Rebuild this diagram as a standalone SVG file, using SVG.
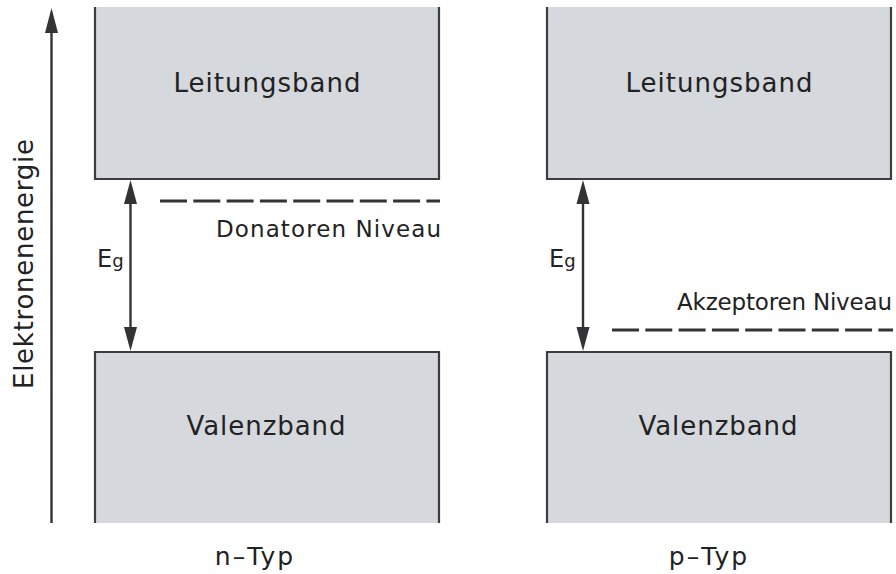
<svg xmlns="http://www.w3.org/2000/svg" width="896" height="574" viewBox="0 0 896 574">
<style>
.band{fill:#d5d8dc;}
.edge{fill:none;stroke:#3d3d40;stroke-width:2.2;}
.lbl{font-family:"DejaVu Sans",sans-serif;fill:#222;}
.big{font-size:26px;}
.mid{font-size:23px;}
.typ{font-size:25px;letter-spacing:2px;}
.ln{stroke:#333336;stroke-width:2.4;fill:none;}
.dash{stroke:#333336;stroke-width:3.2;stroke-dasharray:27 6.3;fill:none;}
.head{fill:#333336;}
</style>
<rect width="896" height="574" fill="#ffffff"/>
<g id="leitungsband-n">
<rect class="band" x="95" y="7" width="344" height="172"/>
<path class="edge" d="M95,7 V179 H439 V7"/>
<text class="lbl big" x="267" y="92" text-anchor="middle" textLength="187" lengthAdjust="spacing">Leitungsband</text>
</g>
<g id="valenzband-n">
<rect class="band" x="95" y="352" width="344" height="171"/>
<path class="edge" d="M95,523 V352 H439 V523"/>
<text class="lbl big" x="266" y="435" text-anchor="middle" textLength="159" lengthAdjust="spacing">Valenzband</text>
</g>
<g id="leitungsband-p">
<rect class="band" x="547" y="7" width="344" height="172"/>
<path class="edge" d="M547,7 V179 H891 V7"/>
<text class="lbl big" x="719" y="92" text-anchor="middle" textLength="187" lengthAdjust="spacing">Leitungsband</text>
</g>
<g id="valenzband-p">
<rect class="band" x="547" y="352" width="344" height="171"/>
<path class="edge" d="M547,523 V352 H891 V523"/>
<text class="lbl big" x="718" y="435" text-anchor="middle" textLength="159" lengthAdjust="spacing">Valenzband</text>
</g>
<g id="donatoren">
<line class="dash" x1="160" y1="201" x2="440" y2="201"/>
<text class="lbl mid" x="216" y="237" textLength="225" lengthAdjust="spacing">Donatoren Niveau</text>
</g>
<g id="akzeptoren">
<line class="dash" x1="612" y1="330" x2="893" y2="330"/>
<text class="lbl mid" x="677" y="310" textLength="215" lengthAdjust="spacing">Akzeptoren Niveau</text>
</g>
<g id="achse">
<text class="lbl big" transform="translate(33,264) rotate(-90)" text-anchor="middle" textLength="250" lengthAdjust="spacing">Elektronenenergie</text>
</g>
<g id="typ-labels">
<text class="lbl typ" x="255" y="565" text-anchor="middle">n–Typ</text>
<text class="lbl typ" x="709" y="565" text-anchor="middle">p–Typ</text>
</g>
<g id="eg-labels">
<text class="lbl" x="97" y="267" font-size="24">E<tspan font-size="18">g</tspan></text>
<text class="lbl" x="549" y="267" font-size="24">E<tspan font-size="18">g</tspan></text>
</g>
<g id="connectors">
<line class="ln" x1="51.5" y1="523" x2="51.5" y2="30"/>
<polygon class="head" points="51.5,8 45,33 58,33"/>
<line class="ln" x1="130.5" y1="200" x2="130.5" y2="331"/>
<polygon class="head" points="130.5,180 124,204 137,204"/>
<polygon class="head" points="130.5,351 124,327 137,327"/>
<line class="ln" x1="583" y1="200" x2="583" y2="331"/>
<polygon class="head" points="583,180 576.5,204 589.5,204"/>
<polygon class="head" points="583,351 576.5,327 589.5,327"/>
</g>
</svg>
